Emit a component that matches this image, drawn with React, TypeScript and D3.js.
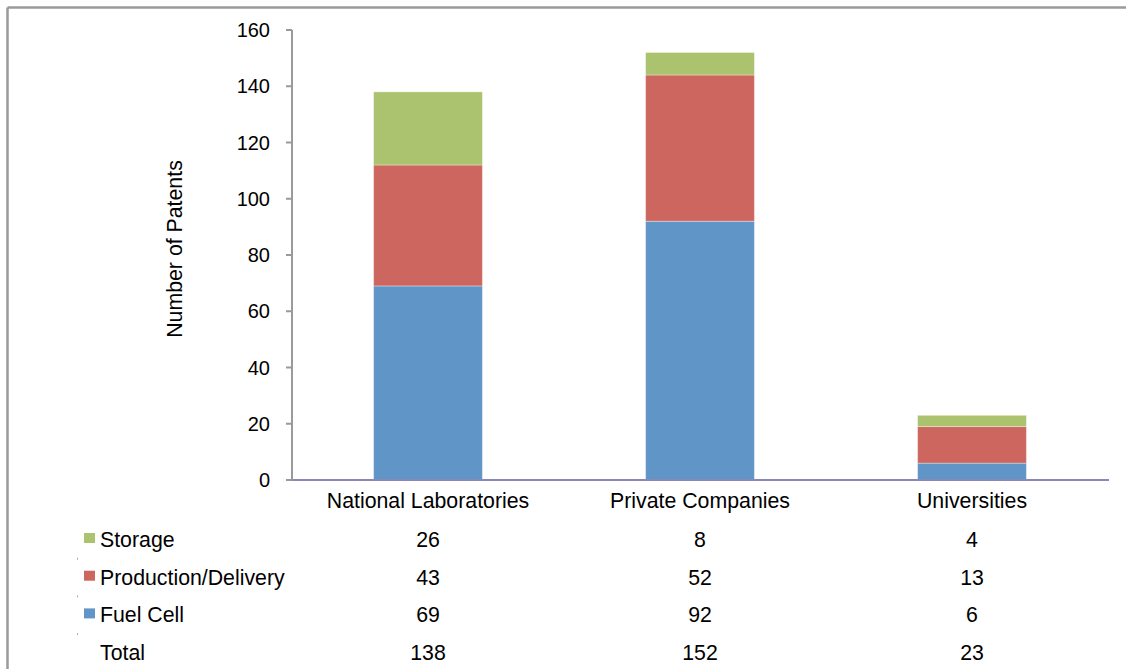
import * as d3 from "d3";

const categories = ["National Laboratories", "Private Companies", "Universities"];
const seriesNames = ["Fuel Cell", "Production/Delivery", "Storage"];
const fuelCell = [69, 92, 6];
const production = [43, 52, 13];
const storage = [26, 8, 4];
const yTicks = [0, 20, 40, 60, 80, 100, 120, 140, 160];
const colors = ["#5f95c7", "#cc665e", "#abc36e"];

const W = 1126;
const H = 669;
const margin = { top: 30, right: 18, bottom: 189, left: 292 };
const font = "'Liberation Sans', Arial, sans-serif";
const fs = 21.3;

export default function App() {
  const totals = categories.map((_, i) => fuelCell[i] + production[i] + storage[i]);
  const rows = categories.map((c, i) => ({
    cat: c,
    "Fuel Cell": fuelCell[i],
    "Production/Delivery": production[i],
    Storage: storage[i],
  }));
  const stacked = d3.stack<any>().keys(seriesNames)(rows);

  const x = d3
    .scaleBand()
    .domain(categories)
    .range([margin.left, W - margin.right])
    .paddingInner(0.6)
    .paddingOuter(0.3);
  const y = d3.scaleLinear().domain([0, 160]).range([H - margin.bottom, margin.top]);
  const y0 = y(0);

  // table rows, top to bottom
  const tableRows = [
    { label: "Storage", values: storage, color: colors[2] },
    { label: "Production/Delivery", values: production, color: colors[1] },
    { label: "Fuel Cell", values: fuelCell, color: colors[0] },
    { label: "Total", values: totals, color: null },
  ];
  const rowBase = (i: number) => 547 + i * 37.7;

  return (
    <svg
      width={W}
      height={H}
      style={{ position: "absolute", left: 0, top: 0, background: "#fff" }}
      fontFamily={font}
    >
      {/* frame */}
      <line x1={7.5} x2={W} y1={7.5} y2={7.5} stroke="#9a9a9a" strokeWidth={2.5} />
      <line x1={7.5} x2={7.5} y1={7.5} y2={H} stroke="#9a9a9a" strokeWidth={2.5} />

      {/* bars */}
      {stacked.map((s, si) => (
        <g key={s.key}>
          {s.map((d: any, i: number) => (
            <rect
              key={i}
              x={x(categories[i])!}
              width={x.bandwidth()}
              y={y(d[1])}
              height={y(d[0]) - y(d[1])}
              fill={colors[si]}
              stroke="#ffffff"
              strokeOpacity={0.35}
              strokeWidth={1}
            />
          ))}
        </g>
      ))}

      {/* y axis */}
      <line x1={margin.left} x2={margin.left} y1={y(160)} y2={y0} stroke="#9a9a9a" strokeWidth={2} />
      {yTicks.map((t) => (
        <g key={t}>
          <line x1={margin.left - 6} x2={margin.left} y1={y(t)} y2={y(t)} stroke="#9a9a9a" strokeWidth={2} />
          <text x={270} y={y(t) + 7} textAnchor="end" fontSize={20} fill="#000">
            {t}
          </text>
        </g>
      ))}
      <text
        transform={`translate(182,249) rotate(-90)`}
        textAnchor="middle"
        fontSize={fs}
        fill="#000"
      >
        Number of Patents
      </text>

      {/* x axis */}
      <line x1={margin.left} x2={1109} y1={y0} y2={y0} stroke="#8988b8" strokeWidth={2} />
      {categories.map((c) => (
        <text
          key={c}
          x={x(c)! + x.bandwidth() / 2}
          y={508}
          textAnchor="middle"
          fontSize={fs}
          fill="#000"
        >
          {c}
        </text>
      ))}

      {/* data table */}
      {tableRows.map((r, ri) => (
        <g key={r.label}>
          {r.color && (
            <rect x={84} y={rowBase(ri) - 14} width={11} height={10} fill={r.color} />
          )}
          {ri > 0 && (
            <line x1={77.5} x2={77.5} y1={rowBase(ri) - 27} y2={rowBase(ri) - 25} stroke="#aaa" strokeWidth={1} />
          )}
          <text x={100} y={rowBase(ri)} fontSize={fs} fill="#000">
            {r.label}
          </text>
          {r.values.map((v, i) => (
            <text
              key={i}
              x={x(categories[i])! + x.bandwidth() / 2}
              y={rowBase(ri)}
              textAnchor="middle"
              fontSize={fs}
              fill="#000"
            >
              {v}
            </text>
          ))}
        </g>
      ))}
    </svg>
  );
}
